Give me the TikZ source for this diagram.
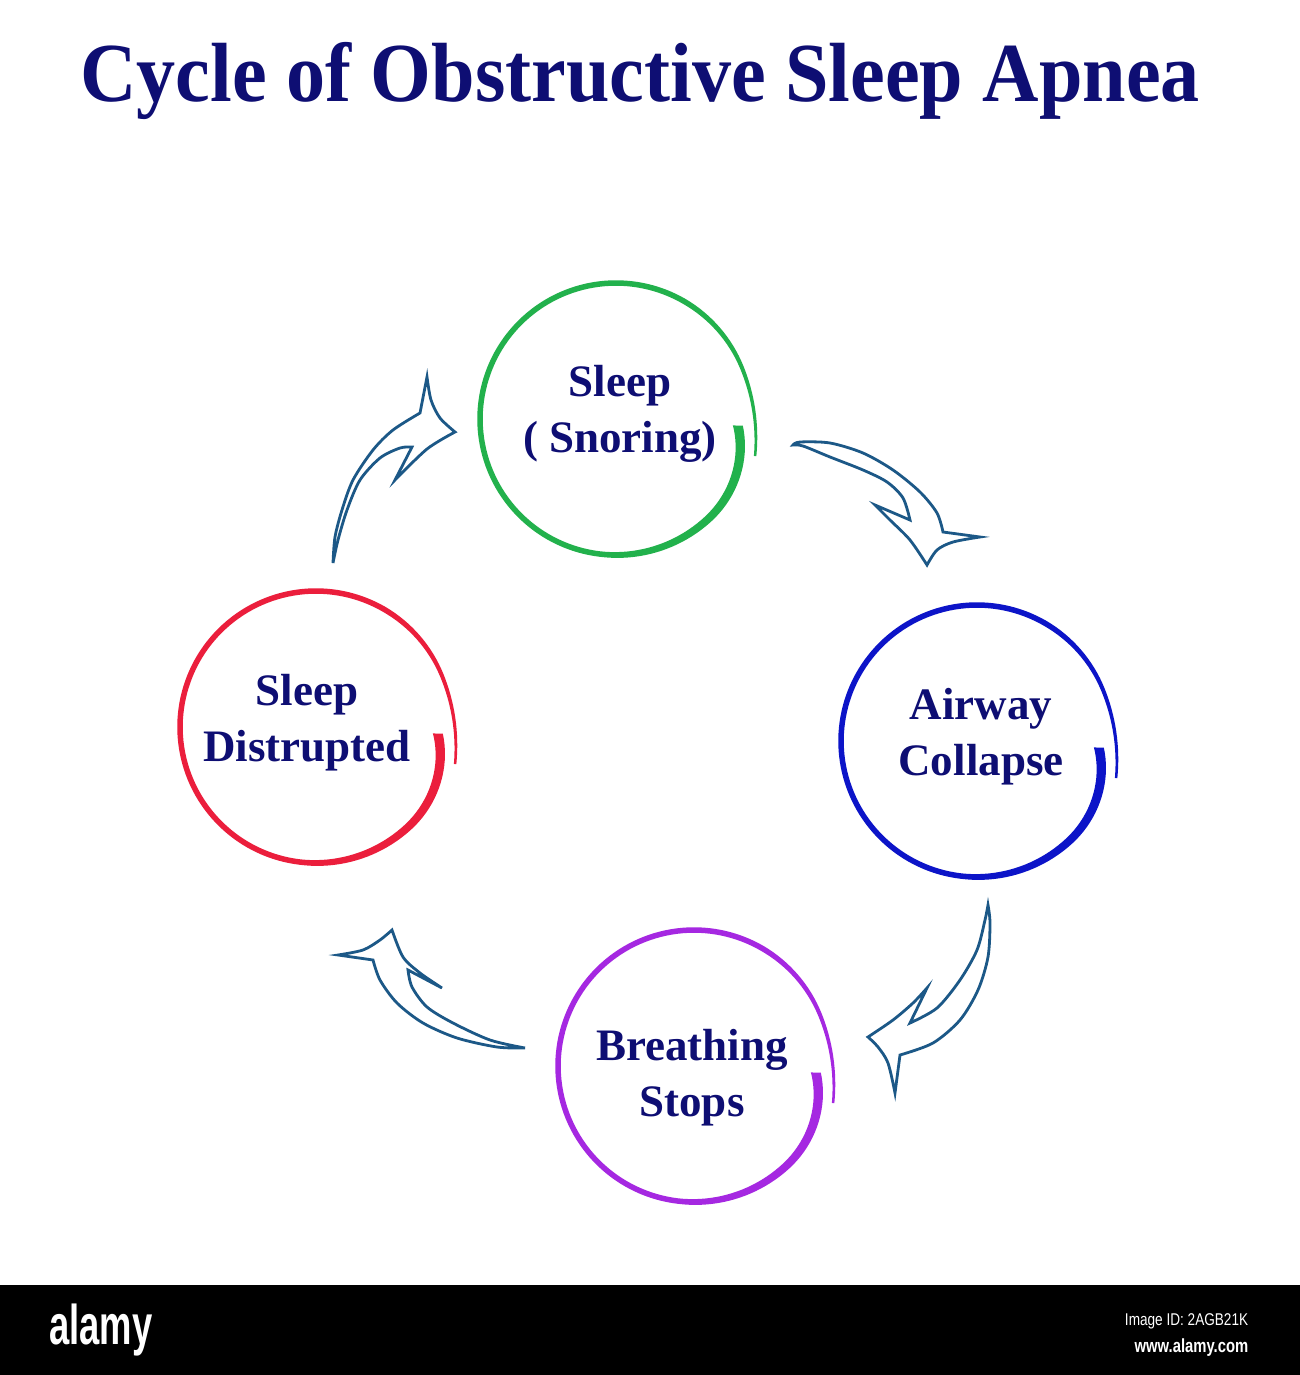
\documentclass[tikz,border=0pt]{standalone}
\usepackage{fontspec}
\setmainfont{Liberation Serif}
\newfontfamily\logofont{Liberation Sans}
\usetikzlibrary{calc}
\definecolor{navytext}{RGB}{14,14,115}
\definecolor{ringgreen}{RGB}{34,177,76}
\definecolor{ringblue}{RGB}{12,20,200}
\definecolor{ringpurple}{RGB}{165,40,225}
\definecolor{ringred}{RGB}{235,30,60}
\definecolor{arrowblue}{RGB}{28,88,135}
\def\brushring[#1](#2,#3){\fill[#1] plot[domain=0:1,samples=160] ({#2+(rr(\x)+ww(\x)/2)*cos(aa(\x))},{#3+(rr(\x)+ww(\x)/2)*sin(aa(\x))}) -- plot[domain=1:0,samples=160] ({#2+(rr(\x)-ww(\x)/2)*cos(aa(\x))},{#3+(rr(\x)-ww(\x)/2)*sin(aa(\x))}) -- cycle;}
\tikzset{
  lbl/.style={text=navytext, font=\bfseries\fontsize{45}{56}\selectfont, align=center},
  arrowline/.style={draw=arrowblue, line width=2.8pt, line join=miter}
}

\begin{document}
\begin{tikzpicture}[x=1pt, y=-1pt,
    declare function={rr(\s)=136-14*max(0,1-\s/0.12)^2+8*max(0,(\s-0.9)/0.1)^2;
                      ww(\s)=5.5+4.5*max(0,1-\s/0.25)-3*max(0,(\s-0.8)/0.2);
                      aa(\s)=3+372*\s;}]
		%%%%% START %%%%%
		\fill[white] (0,0) rectangle (1300,1375);
		\useasboundingbox (0,0) rectangle (1300,1375);
		
		\node[text=navytext, font=\bfseries\fontsize{84}{96}\selectfont, xscale=0.93, anchor=base] (title) at (640,102) {Cycle of Obstructive Sleep Apnea};
		
		\brushring[ringgreen](616,419)
		\brushring[ringblue](977,741)
		\brushring[ringpurple](694,1066)
		\brushring[ringred](316,727)
		
		\node[lbl] (snore) at (620,414) {Sleep\\( Snoring)};
		\node[lbl] (airway) at (981,737) {Airway\\Collapse};
		\node[lbl] (stops) at (692,1078) {Breathing\\Stops};
		\node[lbl] (disrupt) at (307,723) {Sleep\\Distrupted};
		
		% red -> green
		\draw[arrowline] plot[smooth] coordinates {(333,563) (335,537) (342,510) (353,480) (373,450) (393,430) (420,413)} -- (427,377)
			-- plot[smooth] coordinates {(427,377) (431,400) (440,418) (455,432)}
			-- plot[smooth] coordinates {(455,432) (427,449) (395,480)} -- (412,447)
			-- plot[smooth] coordinates {(412,447) (400,448) (380,458) (360,480) (347,510) (338,540) (333,563)} -- cycle;
		
		% green -> blue
		\draw[arrowline] plot[smooth] coordinates {(793,445) (800,442) (830,443) (863,453) (893,470) (920,492) (937,513) (943,532)} -- (980,537)
			-- plot[smooth] coordinates {(980,537) (953,542) (937,550) (927,565)}
			-- plot[smooth] coordinates {(927,565) (910,540) (890,520) (875,505)} -- (910,520)
			-- plot[smooth] coordinates {(910,520) (903,498) (887,482) (863,470) (830,457) (803,446) (793,445)} -- cycle;
		
		% blue -> purple
		\draw[arrowline] plot[smooth] coordinates {(988,905) (990,923) (988,957) (978,990) (960,1020) (933,1043) (900,1055)} -- (895,1093)
			-- plot[smooth] coordinates {(895,1093) (888,1063) (878,1047) (868,1037)}
			-- plot[smooth] coordinates {(868,1037) (893,1020) (913,1003) (927,988)} -- (910,1023)
			-- plot[smooth] coordinates {(910,1023) (937,1008) (960,980) (977,950) (985,920) (988,905)} -- cycle;
		
		% purple -> red
		\draw[arrowline] plot[smooth] coordinates {(525,1048) (497,1047) (457,1038) (423,1023) (397,1003) (380,980) (373,960)} -- (338,955)
			-- plot[smooth] coordinates {(338,955) (363,950) (380,940) (392,930)}
			-- plot[smooth] coordinates {(392,930) (403,957) (420,973) (442,988)} -- (408,970)
			-- plot[smooth] coordinates {(408,970) (412,987) (427,1007) (453,1023) (490,1040) (525,1048)} -- cycle;
		
		\fill[black] (0,1285) rectangle (1300,1375);
		\node[text=white, font=\logofont\bfseries\fontsize{56}{60}\selectfont, xscale=0.65, anchor=base] (logo) at (101,1344) {alamy};
		\node[text=white, font=\logofont\fontsize{17}{20}\selectfont, xscale=0.8, anchor=base east] (imgid) at (1251,1325) {Image ID: 2AGB21K};
		\node[text=white, font=\logofont\bfseries\fontsize{19}{22}\selectfont, xscale=0.78, anchor=base east] (site) at (1251,1352) {www.alamy.com};
		
		%%%%% END %%%%%
	\end{tikzpicture}
\end{document}
